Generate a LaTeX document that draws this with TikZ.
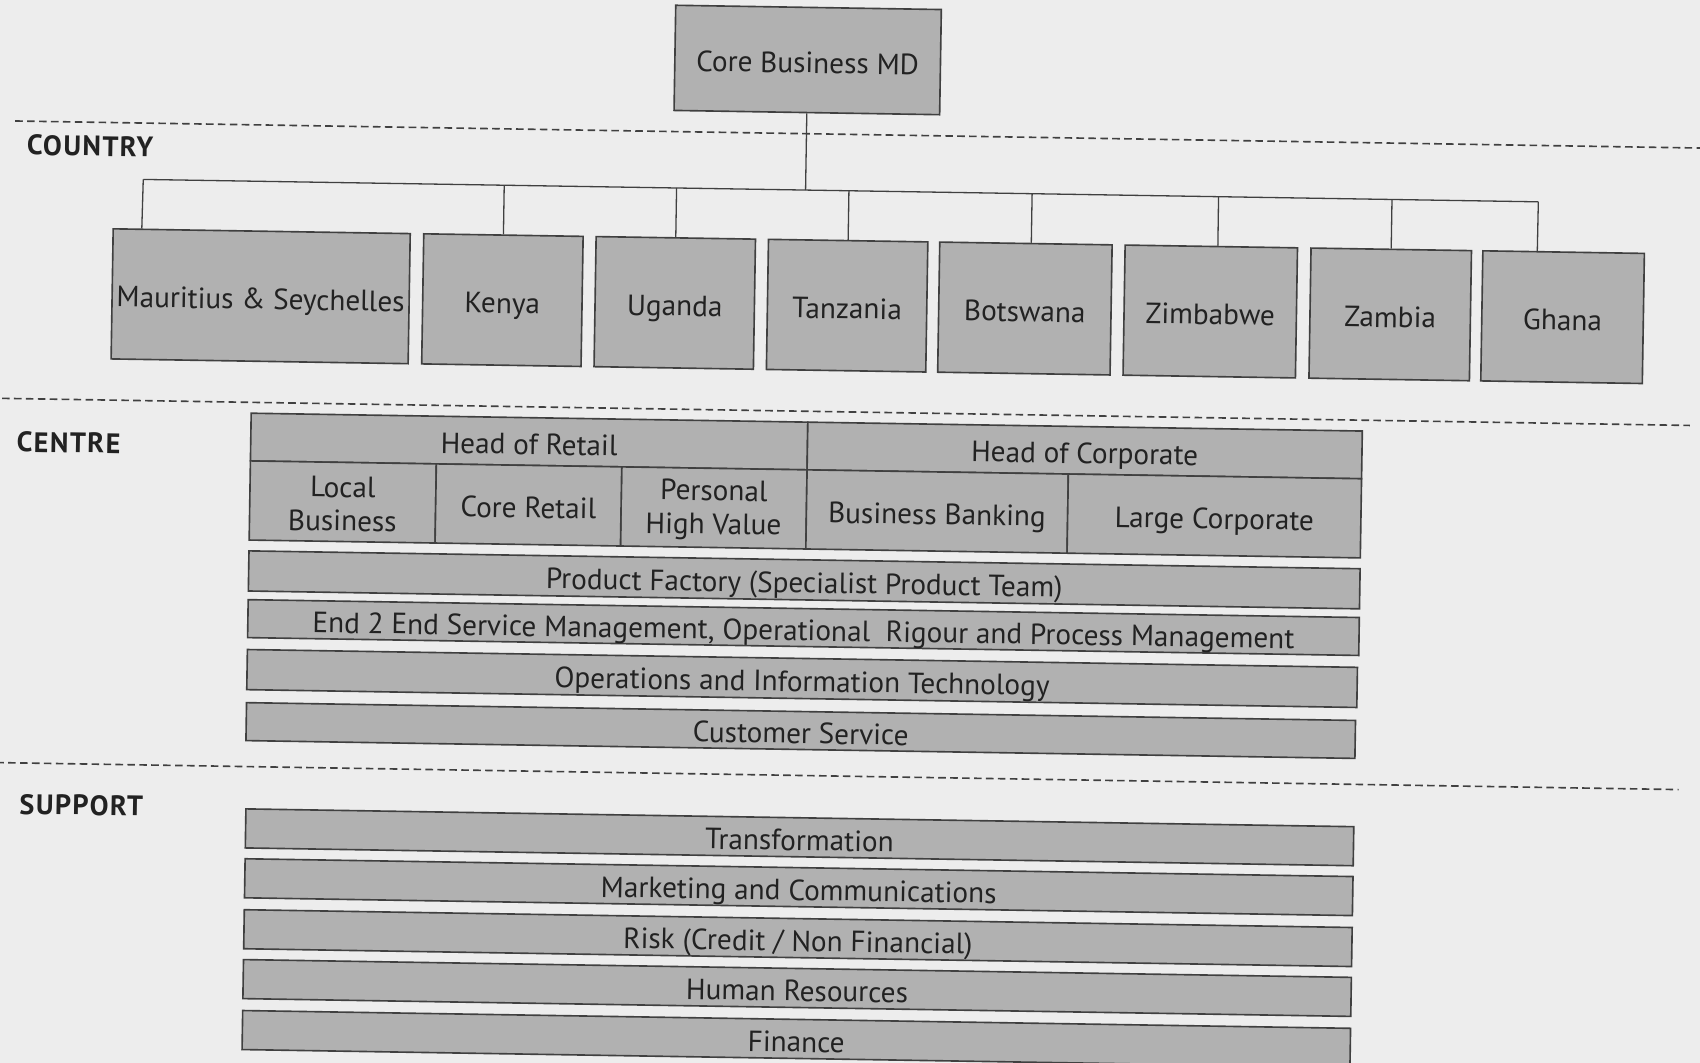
\documentclass[tikz,border=0pt]{standalone}
\usepackage{fontspec}
\setmainfont{PT Sans}
\usetikzlibrary{calc}
\definecolor{bg}{HTML}{EDEDED}
\definecolor{boxfill}{HTML}{B1B1B1}
\definecolor{edge}{HTML}{404040}
\definecolor{ink}{HTML}{222222}
\newcommand{\cell}[6]{\node[box,minimum width={(#4-#2)*1pt},minimum height={(#5-#3)*1pt}] (#1) at ({(#2+#4)/2},{(#3+#5)/2}) {#6};}
\newcommand{\cellml}[6]{\node[boxml,minimum width={(#4-#2)*1pt},minimum height={(#5-#3)*1pt}] (#1) at ({(#2+#4)/2},{(#3+#5)/2+2}) {#6};}
\begin{document}
\begin{tikzpicture}[x=1pt,y=-1pt,
  boxml/.style={draw=edge,fill=boxfill,line width=1.5pt,inner sep=0pt,text=ink,align=center,font=\fontsize{27}{31}\selectfont},
  box/.style={boxml,text height=27pt,text depth=3pt},
  conn/.style={draw=edge,line width=1.2pt},
  sepline/.style={draw=edge,line width=1.5pt,dash pattern=on 7pt off 4pt},
  lab/.style={anchor=west,text=ink,font=\fontsize{26}{28}\selectfont\bfseries\addfontfeature{LetterSpace=5},inner sep=0pt}]
\fill[bg] (0,0) rectangle (1568,980);
\useasboundingbox (0,0) rectangle (1568,980);
\begin{scope}[rotate around={-0.92:(784,490)},transform shape]
% separators
\coordinate (s1a) at (8,124);   \coordinate (s1b) at (1590,124);
\coordinate (s2a) at (0,380);   \coordinate (s2b) at (1557,380);
\coordinate (s3a) at (0,716);   \coordinate (s3b) at (1552,716);
\draw[sepline] (s1a) -- (s1b);
\draw[sepline] (s2a) -- (s2b);
\draw[sepline] (s3a) -- (s3b);
% labels
\node[lab] (lcountry) at (19,146) {COUNTRY};
\node[lab] (lcentre) at (14,420) {CENTRE};
\node[lab] (lsupport) at (22,754) {SUPPORT};
% top
\cell{md}{615.5}{7.5}{860.5}{104.5}{Core Business MD}
% countries
\cell{mau}{100}{222}{374}{342}{Mauritius \& Seychelles}
\cell{ken}{386.5}{222}{533.5}{342}{Kenya}
\cell{uga}{545.5}{222}{692.5}{342}{Uganda}
\cell{tan}{704.5}{222}{851.5}{342}{Tanzania}
\cell{bot}{862.5}{222}{1021.5}{342}{Botswana}
\cell{zim}{1033.5}{222}{1192.5}{342}{Zimbabwe}
\cell{zam}{1205}{222}{1353}{342}{Zambia}
\cell{gha}{1363.5}{222}{1512.5}{342}{Ghana}
% connectors
\coordinate (bmd) at (738,176);
\coordinate (b1) at (127,176);
\coordinate (b2) at (460,176);
\coordinate (b3) at (619,176);
\coordinate (b4) at (778,176);
\coordinate (b5) at (947,176);
\coordinate (b6) at (1119,176);
\coordinate (b7) at (1279,176);
\coordinate (b8) at (1414,176);
\draw[conn] (md.south) -- (bmd);
\draw[conn] (b1) -- (b8);
\draw[conn] (b1) -- ($(mau.north west)!0.0985!(mau.north east)$);
\draw[conn] (b2) -- (ken.north);
\draw[conn] (b3) -- (uga.north);
\draw[conn] (b4) -- (tan.north);
\draw[conn] (b5) -- ($(bot.north west)!0.531!(bot.north east)$);
\draw[conn] (b6) -- ($(zim.north west)!0.538!(zim.north east)$);
\draw[conn] (b7) -- ($(zam.north west)!0.5!(zam.north east)$);
\draw[conn] (b8) -- ($(gha.north west)!0.339!(gha.north east)$);
% centre table
\cell{hret}{230}{390}{743.5}{434}{Head of Retail}
\cell{hcorp}{743.5}{390}{1255}{434}{Head of Corporate}
\node[boxml,minimum width=171.5pt,minimum height=73pt] (local) at (315.75,470.5) {};
\node[boxml,minimum width=171pt,minimum height=73pt] (phv) at (658,470.5) {};
\node[text=ink,align=center,inner sep=0pt,font=\fontsize{27}{31}\selectfont] (localt) at ([yshift=-2pt]local.center) {Local\\Business};
\node[text=ink,align=center,inner sep=0pt,font=\fontsize{27}{31}\selectfont] (phvt) at ([yshift=-2pt]phv.center) {Personal\\High Value};
\cell{coreret}{401.5}{434}{572.5}{507}{Core Retail}
\cell{bb}{743.5}{434}{984.5}{507}{Business Banking}
\cell{lc}{984.5}{434}{1255}{507}{Large Corporate}
\cell{pf}{230}{517}{1255}{554}{Product Factory (Specialist Product Team)}
\cell{e2e}{230}{562}{1255}{597}{End 2 End Service Management, Operational\ \ Rigour and Process Management}
\cell{oit}{230}{608}{1254}{645}{Operations and Information Technology}
\cell{cs}{230}{657}{1253}{692}{Customer Service}
% support
\cell{trans}{231}{755}{1253}{791}{Transformation}
\cell{mkt}{231}{801}{1253}{837}{Marketing and Communications}
\cell{risk}{231}{848}{1253}{884}{Risk (Credit / Non Financial)}
\cell{hr}{231}{894}{1253}{930}{Human Resources}
\cell{fin}{231}{941}{1253}{977}{Finance}
\end{scope}
\end{tikzpicture}
\end{document}
